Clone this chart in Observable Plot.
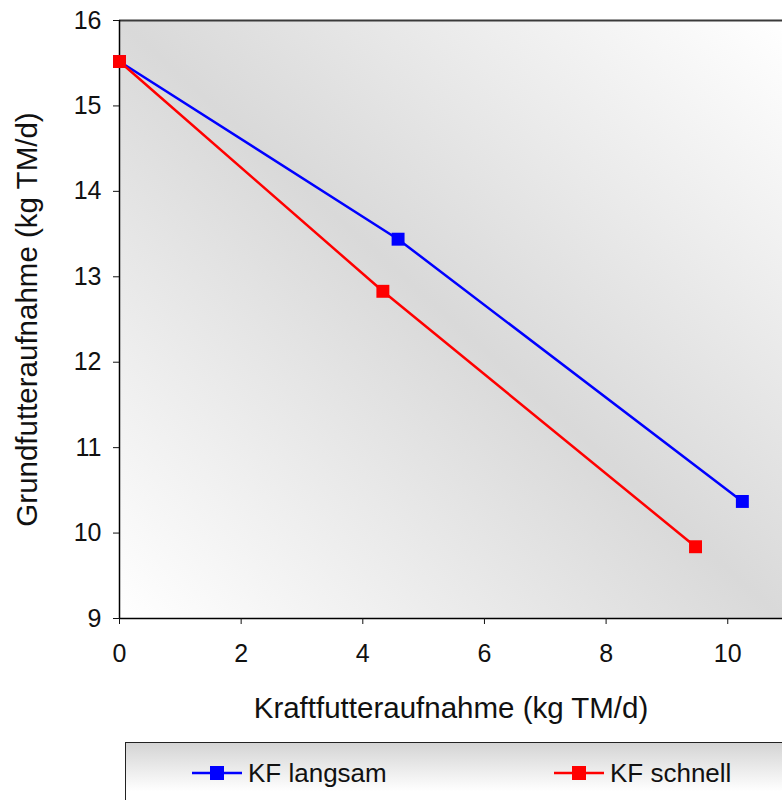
<!DOCTYPE html>
<html>
<head>
<meta charset="utf-8">
<script src="https://cdn.jsdelivr.net/npm/d3@7"></script>
<script src="https://cdn.jsdelivr.net/npm/@observablehq/plot@0.6"></script>
<style>
  html, body { margin: 0; padding: 0; background: #fff; overflow: hidden; }
  body { width: 782px; height: 800px; position: relative; font-family: "Liberation Sans", Arial, sans-serif; }
  #legend {
    position: absolute; left: 125px; top: 742px; width: 720px; height: 90px;
    border: 1px solid #222; box-sizing: border-box;
    background: linear-gradient(to bottom, #d4d4d4 0%, #ffffff 55%, #ffffff 100%);
    font-size: 26px; color: #111;
  }
  .item { position: absolute; top: 15px; display: flex; align-items: center; height: 30px; }
  .item svg { margin-right: 4px; }
</style>
</head>
<body>
<div id="chart"></div>
<div id="legend"></div>
<script>
const seriesNames = ["KF langsam", "KF schnell"];
const seriesColors = ["#0000ff", "#ff0000"];
const kraftfutterLangsam = [0, 4.58, 10.24];
const grundfutterLangsam = [15.52, 13.44, 10.37];
const kraftfutterSchnell = [0, 4.33, 9.47];
const grundfutterSchnell = [15.52, 12.83, 9.84];
const xTicks = [0, 2, 4, 6, 8, 10];
const yTicks = [9, 10, 11, 12, 13, 14, 15, 16];
const xTitle = "Kraftfutteraufnahme (kg TM/d)";
const yTitle = "Grundfutteraufnahme (kg TM/d)";

const data = [
  ...kraftfutterLangsam.map((x, i) => ({series: seriesNames[0], x, y: grundfutterLangsam[i]})),
  ...kraftfutterSchnell.map((x, i) => ({series: seriesNames[1], x, y: grundfutterSchnell[i]}))
];

const plot = Plot.plot({
  width: 782,
  height: 735,
  marginLeft: 119,
  marginRight: 0,
  marginTop: 20,
  marginBottom: 117,
  style: {fontFamily: "'Liberation Sans', Arial, sans-serif", fontSize: "25px", color: "#111", background: "transparent", overflow: "visible"},
  x: {domain: [0, 10.9], label: null},
  y: {domain: [9, 16], label: null},
  color: {domain: seriesNames, range: seriesColors},
  marks: [
    Plot.frame({fill: "url(#bgGrad)", stroke: null}),
    Plot.ruleY([16], {stroke: "#3a3a3a", strokeWidth: 2}),
    Plot.ruleY([9], {stroke: "#000", strokeWidth: 1.5}),
    Plot.ruleX([0], {stroke: "#000", strokeWidth: 1.5}),
    Plot.axisX({ticks: xTicks, tickSize: 6, tickPadding: 20, tickFormat: d => String(d), label: null, fontSize: 25}),
    Plot.axisY({ticks: yTicks, tickSize: 6, tickPadding: 12, tickFormat: d => String(d), label: null, fontSize: 25}),
    Plot.text([xTitle], {text: d => d, frameAnchor: "bottom", textAnchor: "middle", dy: 99, fontSize: 29.5, fill: "#111"}),
    Plot.text([yTitle], {text: d => d, frameAnchor: "left", textAnchor: "middle", rotate: -90, dx: -92, fontSize: 29.5, fill: "#111"}),
    Plot.line(data, {x: "x", y: "y", z: "series", stroke: "series", strokeWidth: 2.5}),
    Plot.dot(data, {x: "x", y: "y", fill: "series", symbol: "square", r: 7.3, stroke: null})
  ]
});

const ns = "http://www.w3.org/2000/svg";
const defs = document.createElementNS(ns, "defs");
defs.innerHTML = `<linearGradient id="bgGrad" x1="0" y1="1" x2="1" y2="0">
  <stop offset="0" stop-color="#ffffff"/>
  <stop offset="0.5" stop-color="#d9d9d9"/>
  <stop offset="1" stop-color="#ffffff"/>
</linearGradient>`;
plot.insertBefore(defs, plot.firstChild);
document.getElementById("chart").appendChild(plot);

const legend = document.getElementById("legend");
const itemLeft = [64, 426];
seriesNames.forEach((name, i) => {
  const item = document.createElement("div");
  item.className = "item";
  item.style.left = itemLeft[i] + "px";
  item.innerHTML = `<svg width="54" height="30"><line x1="2" y1="15" x2="52" y2="15" stroke="${seriesColors[i]}" stroke-width="2.5"/><rect x="20" y="8" width="14" height="14" fill="${seriesColors[i]}"/></svg><span>${name}</span>`;
  legend.appendChild(item);
});
</script>
</body>
</html>
